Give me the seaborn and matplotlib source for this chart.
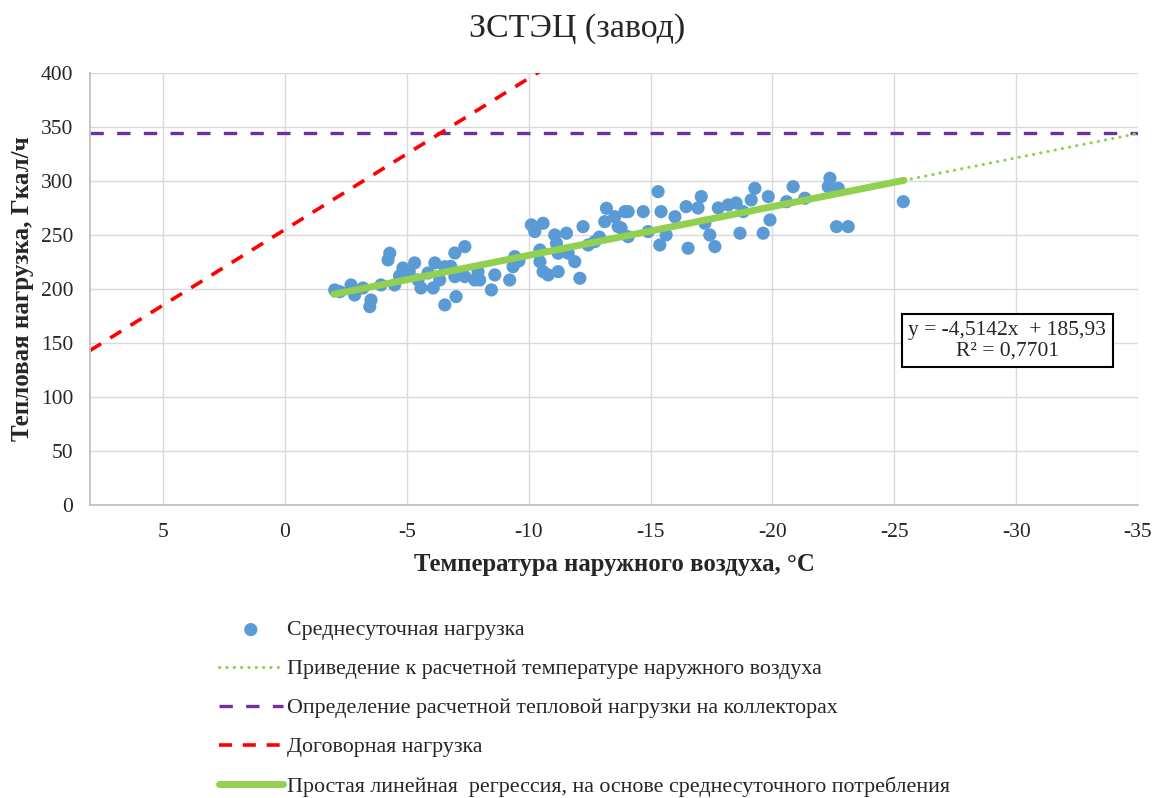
import matplotlib
matplotlib.use("Agg")
import matplotlib.pyplot as plt
import seaborn as sns
import pandas as pd

# Daily average points: outdoor temperature (°C) vs heat load (Gcal/h)
temp = [-2.04, -2.25, -2.71, -2.86, -3.20, -3.48, -3.53, -3.94, -4.30, -4.23,
        -4.50, -4.84, -5.32, -5.46, -5.58, -5.87, -6.15, -6.08, -6.35, -6.56,
        -6.56, -7.02, -6.97, -7.38, -6.97, -7.38, -7.79, -7.92, -7.99, -8.47,
        -8.61, -9.22, -9.36, -9.43, -10.11, -10.59, -10.25, -10.46, -10.46, -10.59,
        -10.80, -11.21, -11.07, -11.14, -11.21, -11.55, -11.62, -11.89, -12.10, -12.23,
        -12.44, -12.71, -13.19, -13.12, -13.53, -13.67, -13.95, -14.08, -13.79, -14.08,
        -14.70, -14.90, -15.31, -15.43, -15.38, -15.64, -16.00, -16.46, -16.54, -17.08,
        -16.95, -17.23, -17.43, -17.64, -17.78, -18.19, -18.51, -18.67, -18.80, -19.13,
        -19.28, -19.62, -19.83, -19.90, -20.58, -20.85, -21.33, -22.36, -22.29, -22.70,
        -22.63, -23.11, -25.37, -4.70, -5.10, -6.80, -9.60, -12.90]
load = [199.1, 197.5, 203.7, 194.4, 200.9, 183.6, 189.8, 203.7, 233.1, 226.9,
        203.7, 219.4, 224.1, 208.3, 200.9, 214.8, 224.1, 200.9, 208.3, 185.2,
        220.6, 192.9, 233.3, 239.2, 211.4, 211.4, 208.3, 216.0, 208.3, 199.1,
        213.0, 208.3, 220.6, 229.9, 259.3, 260.8, 253.1, 236.1, 225.3, 216.0,
        213.0, 216.0, 250.0, 242.3, 233.1, 251.6, 233.1, 225.3, 209.9, 257.7,
        240.7, 243.8, 274.7, 262.3, 266.9, 257.7, 271.6, 271.6, 256.5, 248.4,
        271.6, 253.1, 290.1, 271.6, 240.7, 250.0, 266.9, 276.2, 237.7, 285.5,
        275.0, 260.8, 250.0, 239.2, 275.0, 277.8, 279.6, 251.6, 271.6, 282.4,
        293.2, 251.6, 285.5, 263.9, 280.8, 294.7, 284.0, 302.5, 294.7, 293.2,
        257.7, 257.7, 280.8, 212.0, 216.0, 221.0, 226.0, 248.0]

# Regression line (solid) and its extrapolation to design temperature (dotted)
reg_temp = [-2.0, -25.4]
reg_load = [195.0, 300.6]
ext_temp = [-25.4, -35.0]
ext_load = [300.6, 344.0]

# Design load on collectors (horizontal) and contract load (sloped)
design_temp = [8.0, -35.0]
design_load = [344.0, 344.0]
contract_temp = [8.0, -12.0]
contract_load = [143.0, 423.0]

x_ticks = [5, 0, -5, -10, -15, -20, -25, -30, -35]
y_ticks = [0, 50, 100, 150, 200, 250, 300, 350, 400]

sns.set_theme(style="whitegrid")
plt.rcParams.update({
    "font.family": ["Liberation Serif", "DejaVu Serif"],
    "axes.unicode_minus": False,
    "grid.color": "#D9D9D9",
    "grid.linewidth": 1.0,
    "axes.edgecolor": "#BFBFBF",
})

fig = plt.figure(figsize=(11.55, 7.98), dpi=100)
ax = fig.add_axes([0.0779, 0.3672, 0.9074, 0.5414])

pts = pd.DataFrame({"t": temp, "q": load})
sns.scatterplot(data=pts, x="t", y="q", ax=ax, color="#5B9BD5", s=90,
                edgecolor="none", label="Среднесуточная нагрузка", zorder=3)
sns.lineplot(x=ext_temp, y=ext_load, ax=ax, color="#92D050", lw=2.2,
             linestyle=(0, (0.1, 2.3)), dash_capstyle="round", sort=False,
             label="Приведение к расчетной температуре наружного воздуха", zorder=4)
sns.lineplot(x=design_temp, y=design_load, ax=ax, color="#7030A0", lw=2.4,
             linestyle=(0, (4, 4)), sort=False,
             label="Определение расчетной тепловой нагрузки на коллекторах", zorder=2)
sns.lineplot(x=contract_temp, y=contract_load, ax=ax, color="#FF0000", lw=2.6,
             linestyle=(0, (3.6, 3)), sort=False,
             label="Договорная нагрузка", zorder=2)
sns.lineplot(x=reg_temp, y=reg_load, ax=ax, color="#92D050", lw=5,
             solid_capstyle="round",
             label="Простая линейная  регрессия, на основе среднесуточного потребления",
             zorder=5)

ax.set_xlim(8, -35)
ax.set_ylim(0, 400)
ax.set_xticks(x_ticks)
ax.set_yticks(y_ticks)
ax.tick_params(axis="both", labelsize=15.5, length=0)
ax.tick_params(axis="y", pad=12)
ax.tick_params(axis="x", pad=13)
for s in ["top", "right"]:
    ax.spines[s].set_visible(False)
ax.grid(True, color="#D9D9D9")

ax.set_xlabel("Температура наружного воздуха, °С", fontsize=17.8, fontweight="bold", labelpad=8)
ax.set_ylabel("Тепловая нагрузка, Гкал/ч", fontsize=18, fontweight="bold", labelpad=5)
fig.suptitle("ЗСТЭЦ (завод)", fontsize=24.5, y=0.983)

ax.text(-29.64, 152, "y = -4,5142x  + 185,93\nR² = 0,7701", fontsize=15.5,
        ha="center", va="center", linespacing=1.15,
        bbox=dict(boxstyle="square,pad=0.3", facecolor="white",
                  edgecolor="black", lw=1.5), zorder=6)

handles, labels = ax.get_legend_handles_labels()
ax.get_legend().remove()
fig.legend(handles, labels, loc="upper left", bbox_to_anchor=(0.1725, 0.2478),
           frameon=False, fontsize=15.8, handlelength=2.9, labelspacing=0.85,
           handletextpad=0.2, markerscale=1.0)

fig.savefig("out.png", dpi=100)
